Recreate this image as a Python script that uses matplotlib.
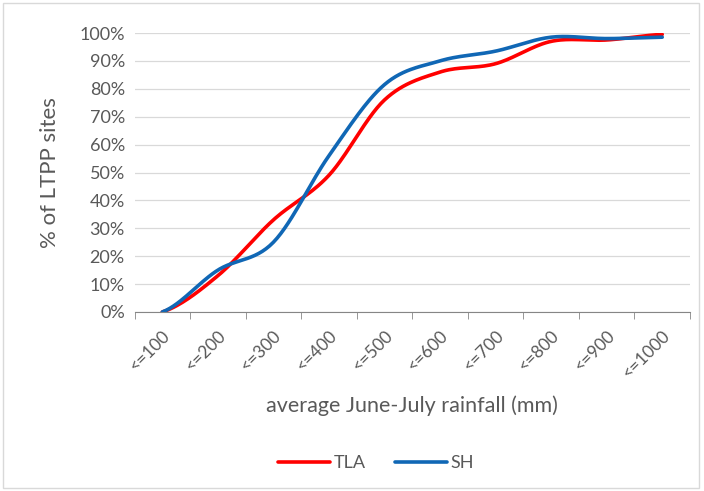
import numpy as np
import matplotlib
matplotlib.use("Agg")
import matplotlib.pyplot as plt
from matplotlib.ticker import PercentFormatter, FixedLocator

categories = ["<=100", "<=200", "<=300", "<=400", "<=500",
              "<=600", "<=700", "<=800", "<=900", "<=1000"]
tla = [0, 13, 33, 49, 76, 86, 89, 97, 97.5, 99.5]
sh = [0, 15, 25, 56, 81.5, 90, 93.5, 98.5, 98, 98.5]


def smooth(y, n=30):
    # excel-like smoothed line (catmull-rom through the points)
    y = np.asarray(y, dtype=float)
    x = np.arange(len(y), dtype=float)
    p = np.concatenate([[y[0]], y, [y[-1]]])
    xs, ys = [], []
    t = np.linspace(0, 1, n, endpoint=False)
    for i in range(len(y) - 1):
        p0, p1, p2, p3 = p[i], p[i + 1], p[i + 2], p[i + 3]
        c1 = p1 + (p2 - p0) / 6
        c2 = p2 - (p3 - p1) / 6
        seg = (1 - t) ** 3 * p1 + 3 * (1 - t) ** 2 * t * c1 + 3 * (1 - t) * t ** 2 * c2 + t ** 3 * p2
        xs.append(x[i] + t)
        ys.append(seg)
    xs.append([x[-1]])
    ys.append([y[-1]])
    return np.concatenate(xs), np.concatenate(ys)


plt.rcParams['font.family'] = ['Lato', 'DejaVu Sans']
grey = '#595959'

fig = plt.figure(figsize=(7.04, 4.91), dpi=100)
ax = fig.add_axes([134.5 / 704, 1 - 312 / 491, (690 - 134.5) / 704, (312 - 33) / 491])

x1, y1 = smooth(tla)
x2, y2 = smooth(sh)
ax.plot(x1, y1, color='#ff0000', lw=2.6, label='TLA', solid_capstyle='round')
ax.plot(x2, y2, color='#1067b5', lw=2.6, label='SH', solid_capstyle='round')

ax.set_xlim(-0.5, len(categories) - 0.5)
ax.set_ylim(0, 100)
ax.yaxis.set_major_locator(FixedLocator(np.arange(0, 101, 10)))
ax.yaxis.set_major_formatter(PercentFormatter(decimals=0))
ax.grid(axis='y', color='#d9d9d9', lw=0.9)
ax.set_axisbelow(True)

ax.set_xticks(np.arange(len(categories)))
ax.set_xticklabels(categories, rotation=45, ha='right', va='top', rotation_mode='anchor')
ax.set_xticks(np.arange(len(categories) + 1) - 0.5, minor=True)
ax.tick_params(axis='x', which='major', length=0, pad=11, labelsize=12.5, labelcolor=grey)
ax.tick_params(axis='x', which='minor', length=5, color='#868686', direction='out')
ax.tick_params(axis='y', length=0, pad=7, labelsize=13, labelcolor=grey)

for s in ['top', 'right', 'left']:
    ax.spines[s].set_visible(False)
ax.spines['bottom'].set_color('#868686')

ax.set_ylabel('% of LTPP sites', fontsize=16, color=grey, labelpad=14)
ax.set_xlabel('average June-July rainfall (mm)', fontsize=15.5, color=grey, labelpad=10)

fig.legend(loc='center', bbox_to_anchor=(376 / 704, 1 - 463 / 491), ncol=2, frameon=False,
           fontsize=13, handlelength=2.9, columnspacing=1.6, handletextpad=0.2,
           labelcolor=grey)

border = plt.Rectangle((3 / 704, 3 / 491), 696 / 704, 485 / 491, transform=fig.transFigure,
                       fill=False, edgecolor='#d9d9d9', lw=1)
fig.patches.append(border)

fig.savefig('out.png', dpi=100)
